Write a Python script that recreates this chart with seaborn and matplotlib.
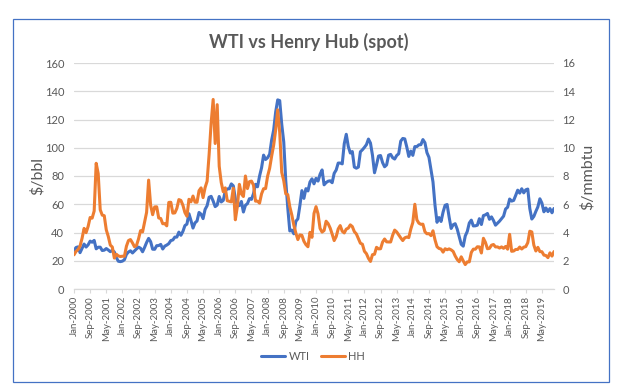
import matplotlib
matplotlib.use("Agg")
import matplotlib.pyplot as plt
import seaborn as sns
import numpy as np
import pandas as pd
from matplotlib.patches import Rectangle

# ---- data (monthly, Jan-2000 .. Nov-2019) ----
start_month = "2000-01"
wti = [
    27.26, 29.37, 29.84, 25.72, 28.79, 31.82, 29.70, 31.26, 33.88, 33.11, 34.42, 28.44,
    29.59, 29.61, 27.25, 27.49, 28.63, 27.60, 26.43, 27.37, 26.20, 22.17, 19.64, 19.39,
    19.72, 20.72, 24.53, 26.18, 27.04, 25.52, 26.97, 28.39, 29.66, 28.84, 26.35, 29.46,
    32.95, 35.83, 33.51, 28.17, 28.11, 30.66, 30.75, 31.57, 28.31, 30.34, 31.11, 32.13,
    34.31, 34.69, 36.74, 36.75, 40.28, 38.03, 40.78, 44.90, 45.94, 53.28, 48.47, 43.15,
    46.84, 48.15, 54.19, 52.98, 49.83, 56.35, 58.99, 64.98, 65.59, 62.26, 58.32, 59.41,
    65.49, 61.63, 62.69, 69.44, 70.84, 70.95, 74.41, 73.04, 63.80, 58.89, 59.08, 61.96,
    54.51, 59.28, 60.44, 63.98, 63.46, 67.49, 74.12, 72.36, 79.92, 85.80, 94.77, 91.69,
    92.97, 95.39, 105.45, 112.58, 125.40, 133.88, 133.37, 116.67, 104.11, 76.61, 57.31, 41.12,
    41.71, 39.09, 47.94, 49.65, 59.03, 69.64, 64.15, 71.05, 69.41, 75.72, 77.99, 74.47,
    78.33, 76.39, 81.20, 84.29, 73.74, 75.34, 76.32, 76.60, 75.24, 81.89, 84.25, 89.15,
    89.17, 88.58, 102.86, 109.53, 100.90, 96.26, 97.30, 86.33, 85.52, 86.32, 97.16, 98.56,
    100.27, 102.20, 106.16, 103.32, 94.66, 82.30, 87.90, 94.13, 94.51, 89.49, 86.53, 87.86,
    94.76, 95.31, 92.94, 92.02, 94.51, 95.77, 104.67, 106.57, 106.29, 100.54, 93.86, 97.63,
    94.62, 100.82, 100.80, 102.07, 102.18, 105.79, 103.59, 96.54, 93.21, 84.40, 75.79, 59.29,
    47.22, 50.58, 47.82, 54.45, 59.27, 59.82, 50.90, 42.87, 45.48, 46.22, 42.44, 37.19,
    31.68, 30.32, 37.55, 40.75, 46.71, 48.76, 44.65, 44.72, 45.18, 49.78, 45.66, 51.97,
    52.50, 53.47, 49.33, 51.06, 48.48, 45.18, 46.63, 48.04, 49.82, 51.58, 56.64, 57.88,
    63.70, 62.23, 62.73, 66.25, 69.98, 67.87, 70.98, 68.06, 70.23, 70.75, 56.96, 49.52,
    51.38, 54.95, 58.15, 63.86, 60.83, 54.66, 57.35, 54.81, 56.95, 53.96, 57.03,
]
hh = [
    2.42, 2.66, 2.79, 3.04, 3.59, 4.29, 3.99, 4.43, 5.06, 5.02, 5.52, 8.90,
    8.17, 5.61, 5.23, 5.19, 4.19, 3.72, 3.11, 2.97, 2.19, 2.46, 2.34, 2.30,
    2.32, 2.32, 3.03, 3.43, 3.50, 3.26, 2.99, 3.09, 3.55, 4.13, 4.04, 4.74,
    5.43, 7.71, 5.93, 5.26, 5.81, 5.82, 5.03, 4.99, 4.62, 4.63, 4.47, 6.13,
    6.14, 5.37, 5.39, 5.71, 6.33, 6.27, 5.93, 5.41, 5.15, 6.35, 6.17, 6.58,
    6.15, 6.14, 6.96, 7.16, 6.47, 7.18, 7.63, 9.53, 11.75, 13.42, 10.30, 13.05,
    8.69, 7.54, 6.89, 7.16, 6.25, 6.21, 6.17, 7.14, 4.90, 5.85, 7.41, 6.73,
    6.55, 8.00, 7.11, 7.60, 7.64, 7.35, 6.22, 6.22, 6.08, 6.74, 7.10, 7.11,
    7.99, 8.54, 9.41, 10.18, 11.27, 12.69, 11.09, 8.26, 7.67, 6.74, 6.68, 5.82,
    5.24, 4.52, 3.96, 3.50, 3.83, 3.80, 3.38, 3.14, 2.99, 4.01, 3.66, 5.35,
    5.83, 5.32, 4.29, 4.03, 4.14, 4.80, 4.63, 4.32, 3.89, 3.43, 3.71, 4.25,
    4.49, 4.09, 3.97, 4.24, 4.31, 4.54, 4.42, 4.06, 3.90, 3.57, 3.24, 3.17,
    2.67, 2.50, 2.17, 1.95, 2.43, 2.46, 2.95, 2.84, 2.85, 3.32, 3.54, 3.34,
    3.33, 3.33, 3.81, 4.17, 4.04, 3.83, 3.62, 3.43, 3.62, 3.68, 3.64, 4.24,
    4.71, 6.00, 4.90, 4.66, 4.58, 4.59, 4.05, 3.91, 3.92, 3.78, 4.12, 3.48,
    2.99, 2.87, 2.83, 2.61, 2.85, 2.78, 2.84, 2.77, 2.66, 2.34, 2.09, 1.93,
    2.28, 1.99, 1.73, 1.92, 1.92, 2.59, 2.82, 2.82, 2.99, 2.98, 2.55, 3.59,
    3.30, 2.85, 2.88, 3.10, 3.15, 2.98, 2.98, 2.90, 2.98, 2.88, 3.01, 2.82,
    3.87, 2.67, 2.69, 2.80, 2.80, 2.97, 2.83, 2.96, 3.00, 3.28, 4.09, 4.04,
    3.11, 2.69, 2.95, 2.65, 2.64, 2.40, 2.37, 2.22, 2.56, 2.33, 2.65,
]
title = "WTI vs Henry Hub (spot)"
left_label = "$/bbl"
right_label = "$/mmbtu"
series_names = ["WTI", "HH"]
left_ticks = [0, 20, 40, 60, 80, 100, 120, 140, 160]
right_ticks = [0, 2, 4, 6, 8, 10, 12, 14, 16]
label_every = 8

dates = pd.date_range(start_month, periods=len(wti), freq="MS")
df = pd.DataFrame({"idx": np.arange(len(wti)), "WTI": wti, "HH": hh})
tick_idx = list(range(0, len(dates), label_every))
tick_labels = [dates[i].strftime("%b-%Y") for i in tick_idx]

sns.set_theme(style="white")
FONT = ["Lato", "DejaVu Sans"]
plt.rcParams["font.family"] = FONT
TXT = "#595959"
BLUE = "#4472C4"
ORANGE = "#ED7D31"
GRID = "#D9D9D9"

W, H = 625, 391
fig = plt.figure(figsize=(W / 100, H / 100), dpi=100)
fig.patch.set_facecolor("white")

# chart border
fig.add_artist(Rectangle((13 / W, 1 - 382 / H), (609 - 13) / W, (382 - 19) / H,
                         transform=fig.transFigure, fill=False,
                         edgecolor="#4472C4", linewidth=0.9))

ax = fig.add_axes([74 / W, 1 - 289 / H, 480 / W, 226 / H])
ax2 = ax.twinx()

sns.lineplot(data=df, x="idx", y="WTI", ax=ax, color=BLUE, linewidth=2.2, label="WTI", legend=False)
sns.lineplot(data=df, x="idx", y="HH", ax=ax2, color=ORANGE, linewidth=2.2, label="HH", legend=False)

ax.set_xlim(0, len(wti) - 1)
ax.set_ylim(0, 160)
ax2.set_ylim(0, 16)
ax.set_yticks(left_ticks)
ax2.set_yticks(right_ticks)
ax.set_xticks(tick_idx)
ax.set_xticklabels(tick_labels, rotation=90, fontsize=7, color=TXT)
ax.tick_params(axis="x", length=3, width=0.8, color=GRID, pad=2, direction="out", bottom=True)
ax.tick_params(axis="y", length=0, pad=7, labelsize=8, labelcolor=TXT)
ax2.tick_params(axis="y", length=0, pad=6, labelsize=8, labelcolor=TXT)

ax.yaxis.grid(True, color=GRID, linewidth=0.9)
ax.xaxis.grid(False)
ax2.grid(False)
for a in (ax, ax2):
    for s in ("top", "left", "right"):
        a.spines[s].set_visible(False)
    a.spines["bottom"].set_visible(False)
ax.spines["bottom"].set_visible(True)
ax.spines["bottom"].set_color(GRID)
ax.spines["bottom"].set_linewidth(0.9)
ax.set_xlabel("")
ax.set_ylabel("")
ax2.set_ylabel("")

fig.text(38 / W, 1 - 176 / H, left_label, rotation=90, ha="center", va="center",
         fontsize=11.5, color=TXT)
fig.text(588 / W, 1 - 177 / H, right_label, rotation=90, ha="center", va="center",
         fontsize=11.5, color=TXT)
fig.text(309 / W, 1 - 42 / H, title, ha="center", va="center", fontsize=13,
         color=TXT, fontweight="bold")

handles = [ax.get_lines()[0], ax2.get_lines()[0]]
fig.legend(handles, series_names, loc="center", bbox_to_anchor=(313 / W, 1 - 356 / H),
           ncol=2, frameon=False, fontsize=8, labelcolor=TXT, handlelength=2.2,
           handletextpad=0.3, columnspacing=1.0)

fig.savefig("out.png", dpi=100, facecolor="white")
